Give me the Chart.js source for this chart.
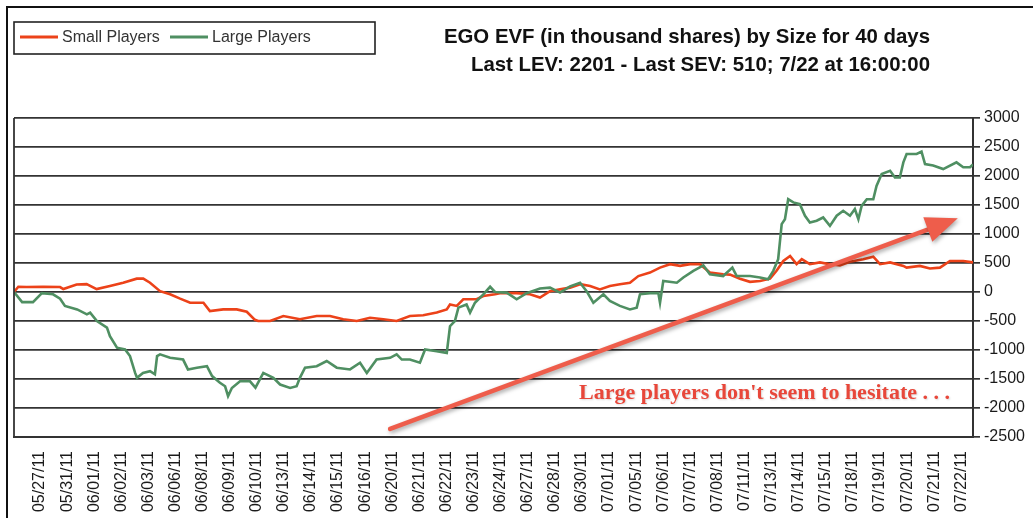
<!DOCTYPE html>
<html lang="en">
<head>
    <meta charset="UTF-8">
    <title>EGO EVF by Size</title>
    <script src="https://cdn.jsdelivr.net/npm/chart.js"></script>
    <style>
        html, body { margin: 0; padding: 0; background: #fff; }
        #wrap { width: 1033px; height: 518px; }
    </style>
</head>
<body>
    <div id="wrap"><canvas id="evfChart" width="1033" height="518"></canvas></div>

    <script>
        // Trading days shown on the x axis (one tick per day)
        const dayLabels = [
            '05/27/11', '05/31/11', '06/01/11', '06/02/11', '06/03/11', '06/06/11', '06/08/11',
            '06/09/11', '06/10/11', '06/13/11', '06/14/11', '06/15/11', '06/16/11', '06/20/11',
            '06/21/11', '06/22/11', '06/23/11', '06/24/11', '06/27/11', '06/28/11', '06/30/11',
            '07/01/11', '07/05/11', '07/06/11', '07/07/11', '07/08/11', '07/11/11', '07/13/11',
            '07/14/11', '07/15/11', '07/18/11', '07/19/11', '07/20/11', '07/21/11', '07/22/11'
        ];

        // Small players EVF (thousand shares); time is in trading days from 05/27
        const smallT = [-0.96, -0.8, -0.49, 0.12, 0.74, 0.86, 1.35, 1.72, 2.09, 2.58,
            3.07, 3.57, 3.81, 4.06, 4.43, 4.8, 5.17, 5.54, 6.03, 6.27,
            6.76, 7.26, 7.63, 7.93, 8.05, 8.49, 8.98, 9.59, 10.21, 10.7,
            11.19, 11.69, 12.18, 12.67, 13.16, 13.65, 14.14, 14.64, 15.01, 15.13,
            15.38, 15.62, 16.11, 16.36, 16.79, 16.97, 17.59, 18.08, 18.45, 18.82,
            19.19, 19.56, 19.93, 20.3, 20.66, 21.03, 21.4, 21.77, 22.08, 22.51,
            22.88, 23.25, 23.62, 23.99, 24.35, 24.72, 25.21, 25.46, 25.83, 26.2,
            26.57, 26.94, 27.18, 27.43, 27.68, 27.92, 28.11, 28.41, 28.78, 29.15,
            29.52, 29.89, 30.38, 30.75, 31.0, 31.37, 31.86, 31.98, 32.47, 32.84,
            33.21, 33.58, 34.07, 34.43];
        const smallV = [0, 90, 85, 90, 85, 50, 130, 135, 50, 105,
            160, 230, 230, 160, 15, -40, -115, -185, -185, -330,
            -300, -300, -340, -480, -500, -500, -415, -470, -415, -415,
            -470, -500, -445, -470, -500, -415, -400, -355, -300, -215,
            -240, -125, -125, -70, -40, -20, -20, -40, -95, 15,
            45, 75, 135, 105, 45, 105, 135, 160, 275, 335,
            420, 480, 450, 480, 480, 335, 305, 300, 230, 175,
            190, 230, 365, 535, 620, 480, 565, 480, 510, 480,
            460, 520, 565, 610, 480, 510, 450, 420, 450, 405,
            420, 535, 535, 510];

        // Large players EVF (thousand shares)
        const largeT = [-0.96, -0.66, -0.26, 0.07, 0.48, 0.74, 0.92, 1.37, 1.73, 1.85,
            2.1, 2.47, 2.58, 2.84, 3.14, 3.32, 3.51, 3.58, 3.8, 4.06,
            4.24, 4.32, 4.43, 4.8, 5.28, 5.46, 5.79, 6.16, 6.35, 6.64,
            6.83, 6.94, 7.08, 7.38, 7.75, 7.95, 8.24, 8.61, 8.86, 9.23,
            9.47, 9.59, 9.78, 10.21, 10.58, 10.95, 11.44, 11.81, 12.06, 12.42,
            12.92, 13.16, 13.35, 13.65, 14.02, 14.21, 14.64, 15.01, 15.13, 15.31,
            15.44, 15.74, 15.87, 16.05, 16.36, 16.61, 16.79, 17.22, 17.59, 17.96,
            18.45, 18.82, 19.19, 19.56, 19.93, 20.17, 20.42, 20.79, 21.03, 21.4,
            21.77, 22.02, 22.14, 22.51, 22.82, 22.88, 23.0, 23.5, 23.74, 24.11,
            24.48, 24.72, 25.21, 25.55, 25.71, 26.2, 26.57, 26.87, 27.06, 27.24,
            27.37, 27.49, 27.61, 27.8, 28.04, 28.23, 28.41, 28.66, 28.9, 29.15,
            29.4, 29.64, 29.89, 30.07, 30.2, 30.32, 30.51, 30.75, 30.87, 31.06,
            31.37, 31.55, 31.73, 31.86, 31.98, 32.35, 32.53, 32.66, 32.96, 33.33,
            33.82, 34.07, 34.32, 34.43];
        const largeV = [0, -175, -175, -20, -40, -115, -240, -300, -385, -355,
            -500, -615, -760, -960, -990, -1105, -1395, -1480, -1395, -1365,
            -1420, -1105, -1075, -1135, -1165, -1335, -1305, -1280, -1450, -1565,
            -1625, -1795, -1655, -1540, -1540, -1650, -1395, -1480, -1595, -1655,
            -1625, -1480, -1305, -1280, -1190, -1305, -1335, -1220, -1395, -1165,
            -1135, -1075, -1165, -1165, -1220, -990, -1020, -1050, -590, -500,
            -270, -215, -355, -185, -40, 90, 0, -10, -125, -20,
            60, 75, -10, 95, 160, 15, -185, -40, -155, -240,
            -300, -270, -40, -20, -20, -185, 190, 160, 250, 365,
            460, 305, 275, 420, 275, 275, 250, 220, 365, 565,
            1170, 1255, 1600, 1545, 1515, 1315, 1200, 1230, 1285, 1140,
            1315, 1400, 1315, 1430, 1255, 1485, 1600, 1600, 1830, 2035,
            2090, 1975, 1975, 2235, 2380, 2380, 2420, 2205, 2180, 2120,
            2235, 2150, 2150, 2200];

        // Annotation arrow (day, value) and note
        const arrowFrom = [12.92, -2360];
        const arrowTo = [33.87, 1270];
        const noteText = "Large players don't seem to hesitate . . .";
        const notePos = [33.58, -1745];

        const RED = '#ec4219';
        const GREEN = '#4f8f62';

        function toPoints(ts, vs) {
            return ts.map((t, i) => ({ x: t, y: vs[i] }));
        }

        function drawArrow(ctx, x0, y0, x1, y1) {
            const ang = Math.atan2(y1 - y0, x1 - x0);
            const headLen = 32, headHalf = 13;
            const bx = x1 - headLen * Math.cos(ang);
            const by = y1 - headLen * Math.sin(ang);
            ctx.beginPath();
            ctx.moveTo(x0, y0);
            ctx.lineTo(bx + 2 * Math.cos(ang), by + 2 * Math.sin(ang));
            ctx.stroke();
            ctx.beginPath();
            ctx.moveTo(x1, y1);
            ctx.lineTo(bx + headHalf * Math.sin(ang), by - headHalf * Math.cos(ang));
            ctx.lineTo(bx - headHalf * Math.sin(ang), by + headHalf * Math.cos(ang));
            ctx.closePath();
            ctx.fill();
        }

        // Frame, legend box, titles, arrow and note
        const decorations = {
            id: 'decorations',
            beforeDraw(chart) {
                const ctx = chart.ctx;
                ctx.save();
                ctx.fillStyle = '#fff';
                ctx.fillRect(0, 0, chart.width, chart.height);
                ctx.restore();
            },
            afterDraw(chart) {
                const ctx = chart.ctx;
                const area = chart.chartArea;
                const xs = chart.scales.x, ys = chart.scales.y;
                ctx.save();

                // outer frame
                ctx.strokeStyle = '#111';
                ctx.lineWidth = 2;
                ctx.strokeRect(7, 7, 1100, 600);

                // left edge of plot area
                ctx.strokeStyle = '#333';
                ctx.lineWidth = 1.8;
                ctx.beginPath();
                ctx.moveTo(area.left, area.top);
                ctx.lineTo(area.left, area.bottom);
                ctx.stroke();

                // legend
                ctx.strokeStyle = '#222';
                ctx.lineWidth = 1.6;
                ctx.strokeRect(14, 22, 361, 32);
                ctx.lineWidth = 3;
                ctx.strokeStyle = RED;
                ctx.beginPath(); ctx.moveTo(20, 37); ctx.lineTo(58, 37); ctx.stroke();
                ctx.strokeStyle = GREEN;
                ctx.beginPath(); ctx.moveTo(170, 37); ctx.lineTo(208, 37); ctx.stroke();
                ctx.fillStyle = '#333';
                ctx.font = '16px "Liberation Sans", Arial, sans-serif';
                ctx.textBaseline = 'middle';
                ctx.textAlign = 'left';
                ctx.fillText('Small Players', 62, 38);
                ctx.fillText('Large Players', 212, 38);

                // title
                ctx.fillStyle = '#111';
                ctx.font = 'bold 20.4px "Liberation Sans", Arial, sans-serif';
                ctx.textAlign = 'right';
                ctx.fillText('EGO EVF (in thousand shares) by Size for 40 days', 930, 37);
                ctx.fillText('Last LEV: 2201 - Last SEV: 510; 7/22 at 16:00:00', 930, 65);

                // arrow
                ctx.shadowColor = 'rgba(0,0,0,0.35)';
                ctx.shadowBlur = 4;
                ctx.shadowOffsetX = 1.5;
                ctx.shadowOffsetY = 2;
                ctx.strokeStyle = '#ee5d4b';
                ctx.fillStyle = '#ee5d4b';
                ctx.lineWidth = 4.5;
                ctx.lineCap = 'round';
                drawArrow(ctx,
                    xs.getPixelForValue(arrowFrom[0]), ys.getPixelForValue(arrowFrom[1]),
                    xs.getPixelForValue(arrowTo[0]), ys.getPixelForValue(arrowTo[1]));

                // note
                ctx.shadowColor = 'rgba(0,0,0,0.15)';
                ctx.shadowBlur = 2;
                ctx.shadowOffsetX = 1;
                ctx.shadowOffsetY = 1;
                ctx.fillStyle = '#e8473a';
                ctx.font = 'bold 22px "Liberation Serif", "Times New Roman", serif';
                ctx.textAlign = 'right';
                ctx.fillText(noteText, xs.getPixelForValue(notePos[0]), ys.getPixelForValue(notePos[1]));
                ctx.restore();
            }
        };

        new Chart(document.getElementById('evfChart'), {
            type: 'line',
            data: {
                datasets: [{
                    label: 'Small Players',
                    data: toPoints(smallT, smallV),
                    borderColor: RED,
                    borderWidth: 2.6,
                    pointRadius: 0,
                    tension: 0,
                    order: 2
                }, {
                    label: 'Large Players',
                    data: toPoints(largeT, largeV),
                    borderColor: GREEN,
                    borderWidth: 2.6,
                    pointRadius: 0,
                    tension: 0,
                    order: 1
                }]
            },
            options: {
                responsive: false,
                animation: false,
                layout: { padding: { left: 14, top: 118, right: 0, bottom: 0 } },
                plugins: {
                    legend: { display: false },
                    title: { display: false },
                    tooltip: { enabled: false }
                },
                scales: {
                    x: {
                        type: 'linear',
                        min: -0.96,
                        max: 34.43,
                        afterBuildTicks: (scale) => {
                            scale.ticks = dayLabels.map((_, i) => ({ value: i }));
                        },
                        afterFit: (scale) => { scale.height = 81; },
                        grid: { display: false, drawTicks: false },
                        border: { display: true, color: '#333', width: 2 },
                        ticks: {
                            autoSkip: false,
                            minRotation: 90,
                            maxRotation: 90,
                            padding: 14,
                            color: '#1a1a1a',
                            font: { family: '"Liberation Sans", Arial, sans-serif', size: 16 },
                            callback: (value) => dayLabels[value]
                        }
                    },
                    y: {
                        position: 'right',
                        min: -2500,
                        max: 3000,
                        afterFit: (scale) => { scale.width = 60; },
                        grid: { color: '#333', lineWidth: 1.7, tickLength: 7, tickColor: '#333' },
                        border: { display: true, color: '#333', width: 2 },
                        ticks: {
                            stepSize: 500,
                            padding: 4,
                            color: '#1a1a1a',
                            font: { family: '"Liberation Sans", Arial, sans-serif', size: 16 },
                            callback: (value) => String(value)
                        }
                    }
                }
            },
            plugins: [decorations]
        });
    </script>
</body>
</html>
